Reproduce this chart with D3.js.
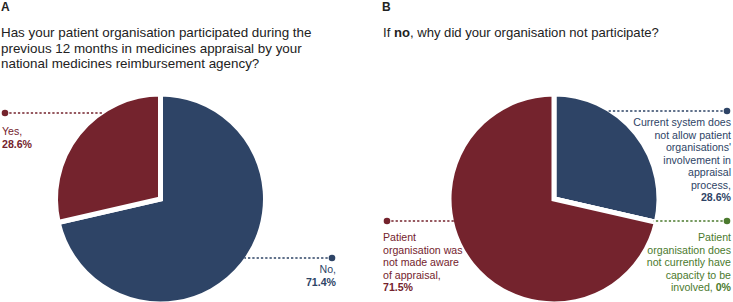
<!DOCTYPE html>
<html><head><meta charset="utf-8">
<script src="https://cdn.jsdelivr.net/npm/d3@7"></script>
<style>
html,body{margin:0;padding:0;background:#fff;}
svg{display:block;font-family:"Liberation Sans",Arial,Helvetica,sans-serif;}
</style></head>
<body>
<svg id="chart" width="733" height="302"></svg>
<script>
// ---- Data ----
const categoriesA = ["No", "Yes"];
const valuesA = [71.4, 28.6];
const colorsA = ["#2e4466", "#74232d"];

const categoriesB = [
  "Current system does not allow patient organisations' involvement in appraisal process",
  "Patient organisation does not currently have capacity to be involved",
  "Patient organisation was not made aware of appraisal"
];
const valuesB = [28.6, 0, 71.5];
const colorsB = ["#2e4466", "#4b7a2e", "#74232d"];

const svg = d3.select("#chart");
const R = 105;
const CY = 199;
const pie = d3.pie().sort(null).value(d => d);
const arc = d3.arc().innerRadius(0).outerRadius(R);
const fmt = v => d3.format(".1f")(v) + "%";
const fmt0 = v => (v === 0 ? "0" : d3.format(".1f")(v)) + "%";

function drawPie(cx, values, colors) {
  const g = svg.append("g").attr("transform", `translate(${cx},${CY})`);
  g.selectAll("path").data(pie(values)).join("path")
    .attr("d", arc)
    .attr("fill", (d, i) => colors[i])
    .attr("stroke", "#fff")
    .attr("stroke-width", 5)
    .attr("stroke-linejoin", "miter");
}

function leader(cx, y, dotX, color) {
  const dy = y - CY;
  const half = Math.sqrt(Math.max(0, R * R - dy * dy)) - 3;
  const edgeX = dotX < cx ? cx - half : cx + half;
  svg.append("line")
    .attr("x1", dotX).attr("x2", edgeX).attr("y1", y).attr("y2", y)
    .attr("stroke", color).attr("stroke-width", 1.3)
    .attr("stroke-dasharray", "2.3,2");
  svg.append("circle").attr("cx", dotX).attr("cy", y).attr("r", 3.3).attr("fill", color);
}

function label(x, y0, lines, color, anchor) {
  const t = svg.append("text").attr("x", x).attr("y", y0)
    .attr("fill", color).attr("font-size", 10.6).attr("text-anchor", anchor);
  lines.forEach((ln, i) => {
    const tsp = t.append("tspan").attr("x", x).attr("dy", i === 0 ? 0 : 12.5);
    ln.forEach(part => {
      tsp.append("tspan").text(part.t).attr("font-weight", part.b ? "bold" : "normal");
    });
  });
}

// ---- Panel A ----
const axA = 160.5;
svg.append("text").attr("x", 1).attr("y", 11).attr("font-size", 12).attr("font-weight", "bold").attr("fill", "#222").text("A");
const qA = ["Has your patient organisation participated during the",
            "previous 12 months in medicines appraisal by your",
            "national medicines reimbursement agency?"];
svg.append("g").selectAll("text").data(qA).join("text")
  .attr("x", 1).attr("y", (d, i) => 37 + i * 15.5)
  .attr("font-size", 13.4).attr("fill", "#222").text(d => d);

drawPie(axA, valuesA, colorsA);
leader(axA, 113, 5, colorsA[1]);
label(2, 135, [[{t: categoriesA[1] + ","}], [{t: fmt(valuesA[1]), b: true}]], colorsA[1], "start");
leader(axA, 258, 332, colorsA[0]);
label(336, 273, [[{t: categoriesA[0] + ","}], [{t: fmt(valuesA[0]), b: true}]], colorsA[0], "end");

// ---- Panel B ----
const bx = 554;
svg.append("text").attr("x", 382).attr("y", 11).attr("font-size", 12).attr("font-weight", "bold").attr("fill", "#222").text("B");
const qB = svg.append("text").attr("x", 383).attr("y", 37).attr("font-size", 13.1).attr("fill", "#222");
qB.append("tspan").text("If ");
qB.append("tspan").attr("font-weight", "bold").text("no");
qB.append("tspan").text(", why did your organisation not participate?");

drawPie(bx, valuesB, colorsB);
leader(bx, 111, 727, colorsB[0]);
label(731, 126, [
  [{t: "Current system does"}], [{t: "not allow patient"}], [{t: "organisations'"}],
  [{t: "involvement in"}], [{t: "appraisal"}], [{t: "process,"}], [{t: fmt(valuesB[0]), b: true}]
], colorsB[0], "end");

leader(bx, 221, 727, colorsB[1]);
label(731, 241, [
  [{t: "Patient"}], [{t: "organisation does"}], [{t: "not currently have"}],
  [{t: "capacity to be"}], [{t: "involved, "}, {t: fmt0(valuesB[1]), b: true}]
], colorsB[1], "end");

leader(bx, 221, 387, colorsB[2]);
label(383, 241, [
  [{t: "Patient"}], [{t: "organisation was"}], [{t: "not made aware"}],
  [{t: "of appraisal,"}], [{t: fmt(valuesB[2]), b: true}]
], colorsB[2], "start");
</script>
</body></html>
